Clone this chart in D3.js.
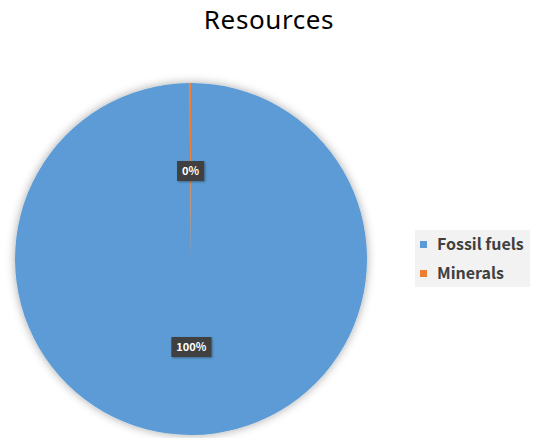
<!DOCTYPE html>
<html>
<head>
<meta charset="utf-8">
<script src="https://cdn.jsdelivr.net/npm/d3@7"></script>
<style>
  html, body { margin: 0; padding: 0; background: #fff; }
  svg { display: block; }
</style>
</head>
<body>
<svg id="chart" width="535" height="438"></svg>
<script>
// Resource shares (percent)
const categories = ["Fossil fuels", "Minerals"];
const shares = [99.86, 0.14];
const colors = ["#5B9BD5", "#ED7D31"];
const chartTitle = "Resources";

const width = 535, height = 438;
const cx = 191, cy = 259, radius = 176;

const svg = d3.select("#chart");

// soft halo around the pie
const defs = svg.append("defs");
const glow = defs.append("filter").attr("id", "pieShadow")
  .attr("x", "-20%").attr("y", "-20%").attr("width", "140%").attr("height", "140%");
glow.append("feDropShadow").attr("dx", 0).attr("dy", 0)
  .attr("stdDeviation", 5).attr("flood-color", "#000").attr("flood-opacity", 0.35);

const labelShadow = defs.append("filter").attr("id", "labelShadow")
  .attr("x", "-30%").attr("y", "-30%").attr("width", "160%").attr("height", "160%");
labelShadow.append("feDropShadow").attr("dx", 1).attr("dy", 1)
  .attr("stdDeviation", 1).attr("flood-color", "#000").attr("flood-opacity", 0.35);

// title
svg.append("text")
  .attr("x", 269).attr("y", 29)
  .attr("text-anchor", "middle")
  .attr("font-family", "'Noto Sans', sans-serif")
  .attr("font-size", 26)
  .attr("letter-spacing", 0.6)
  .attr("fill", "#000")
  .text(chartTitle);

const data = categories.map((c, i) => ({ name: c, value: shares[i], color: colors[i] }));
const total = d3.sum(shares);

const pie = d3.pie().sort(null).value(d => d.value);
const arcs = pie(data);
const arc = d3.arc().innerRadius(0).outerRadius(radius);
const labelArc = d3.arc().innerRadius(radius * 0.5).outerRadius(radius * 0.5);

const g = svg.append("g").attr("transform", `translate(${cx},${cy})`);

g.append("g").attr("filter", "url(#pieShadow)")
  .selectAll("path")
  .data(arcs)
  .join("path")
  .attr("d", arc)
  .attr("fill", d => d.data.color);

// data labels with dark callout boxes
const labels = g.append("g")
  .selectAll("g")
  .data(arcs)
  .join("g")
  .attr("transform", d => {
    const [x, y] = labelArc.centroid(d);
    return `translate(${x},${y})`;
  });

labels.each(function (d) {
  const sel = d3.select(this);
  const txt = Math.round(d.data.value / total * 100) + "%";
  const t = sel.append("text")
    .attr("text-anchor", "middle")
    .attr("dy", "0.35em")
    .attr("font-family", "'Noto Sans CJK KR', 'Noto Sans', sans-serif")
    .attr("font-size", 11)
    .attr("font-weight", "bold")
    .attr("fill", "#fff")
    .text(txt);
  const w = t.node().getComputedTextLength();
  sel.insert("rect", "text")
    .attr("x", -w / 2 - 5).attr("y", -10)
    .attr("width", w + 10).attr("height", 20)
    .attr("fill", "#404040")
    .attr("filter", "url(#labelShadow)");
});

// legend
const legend = svg.append("g").attr("transform", "translate(415,230)");
legend.append("rect")
  .attr("width", 115).attr("height", 57)
  .attr("fill", "#f2f2f2");

const items = legend.selectAll("g.item")
  .data(data)
  .join("g")
  .attr("class", "item")
  .attr("transform", (d, i) => `translate(5,${11 + i * 29})`);

items.append("rect")
  .attr("width", 7).attr("height", 7)
  .attr("fill", d => d.color);

items.append("text")
  .attr("x", 17).attr("y", 9)
  .attr("font-family", "'Noto Sans CJK KR', 'Noto Sans', sans-serif")
  .attr("font-size", 16)
  .attr("font-weight", "bold")
  .attr("fill", "#404040")
  .text(d => d.name);
</script>
</body>
</html>
